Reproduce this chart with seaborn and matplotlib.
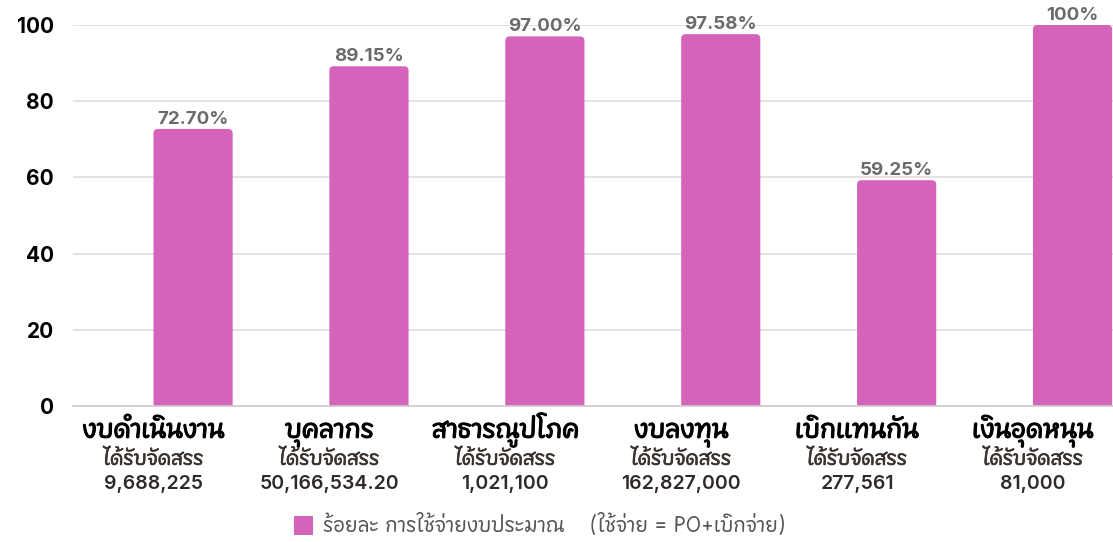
import matplotlib
matplotlib.use("Agg")
import matplotlib.pyplot as plt
import matplotlib.patheffects as pe
from matplotlib import font_manager
from matplotlib.ft2font import FT2Font
from matplotlib.patches import Patch, FancyBboxPatch
import pandas as pd
import seaborn as sns

# --- data ---
categories = ["งบดำเนินงาน", "บุคลากร", "สาธารณูปโภค", "งบลงทุน", "เบิกแทนกัน", "เงินอุดหนุน"]
allocated = ["9,688,225", "50,166,534.20", "1,021,100", "162,827,000", "277,561", "81,000"]
percent_used = [72.70, 89.15, 97.00, 97.58, 59.25, 100.0]
hidden_series = [0, 0, 0, 0, 0, 0]   # empty first series in the original chart
value_labels = ["72.70%", "89.15%", "97.00%", "97.58%", "59.25%", "100%"]
y_ticks = [0, 20, 40, 60, 80, 100]
legend_label = "ร้อยละ การใช้จ่ายงบประมาณ    (ใช้จ่าย = PO+เบิกจ่าย)"

BAR = "#d563ba"


def find_thai_font():
    # look for any installed family that actually has Thai glyphs
    best = None
    for f in font_manager.fontManager.ttflist:
        try:
            cmap = FT2Font(f.fname).get_charmap()
        except Exception:
            continue
        if 0x0E01 in cmap and 0x0E33 in cmap:
            if best is None or "Sans" in f.name:
                best = f.name
    return best


sns.set_theme(style="white")
thai = find_thai_font()
fams = ([thai] if thai else []) + ["DejaVu Sans"]
plt.rcParams["font.family"] = fams
num_fams = ["Inter", "DejaVu Sans"]

df = pd.DataFrame({
    "cat": categories * 2,
    "val": hidden_series + percent_used,
    "series": ["hidden"] * len(categories) + ["used"] * len(categories),
})

fig = plt.figure(figsize=(11.13, 5.42), dpi=100)
ax = fig.add_axes([0.066, 0.251, 0.934, 0.703])

sns.barplot(data=df, x="cat", y="val", hue="series", hue_order=["hidden", "used"],
            palette=[BAR, BAR], saturation=1, width=0.9, linewidth=0,
            legend=False, ax=ax, zorder=3)

ax.set_xlim(-0.455, 5.455)
ax.set_ylim(0, 100)
ax.set_yticks(y_ticks)
ax.set_yticklabels([str(t) for t in y_ticks], fontsize=15, fontweight="bold",
                   color="black", family=num_fams)
ax.tick_params(axis="y", length=0, pad=14)
ax.yaxis.grid(True, color="#dedede", linewidth=1.2)
ax.set_axisbelow(True)
ax.set_xlabel("")
ax.set_ylabel("")
for s in ["top", "right", "left"]:
    ax.spines[s].set_visible(False)
ax.spines["bottom"].set_color("#cccccc")
ax.spines["bottom"].set_linewidth(1.2)
ax.spines["bottom"].set_zorder(4)

# value labels above the visible bars
ax.bar_label(ax.containers[1], labels=value_labels, padding=1, fontsize=13.5,
             fontweight="bold", color="#6b6b6b", family=num_fams, clip_on=False)

# small rounded tops like the original chart
for bar in ax.containers[1]:
    x, y = bar.get_x(), bar.get_y()
    w, h = bar.get_width(), bar.get_height()
    bar.set_visible(False)
    ax.add_patch(FancyBboxPatch((x, y - 2), w, h + 2,
                                boxstyle="round,pad=0,rounding_size=0.025",
                                mutation_aspect=46, facecolor=BAR,
                                edgecolor="none", zorder=3))

# three-line category labels (names share one baseline)
ax.set_xticks(range(len(categories)))
ax.set_xticklabels([""] * len(categories))
ax.tick_params(axis="x", length=0)
trans = ax.get_xaxis_transform()
for i, (name, amount) in enumerate(zip(categories, allocated)):
    ax.text(i, -0.083, name, transform=trans, ha="center", va="baseline",
            fontsize=18, color="black",
            path_effects=[pe.withStroke(linewidth=0.8, foreground="black")])
    ax.text(i, -0.14, "ได้รับจัดสรร", transform=trans, ha="center", va="center",
            fontsize=14, color="#3a3330",
            path_effects=[pe.withStroke(linewidth=0.4, foreground="#3a3330")])
    ax.text(i, -0.205, amount, transform=trans, ha="center", va="center",
            fontsize=14, fontweight="semibold", color="#2f2a28", family=num_fams)

handle = Patch(facecolor=BAR, edgecolor="none")
fig.legend([handle], [legend_label], loc="center", bbox_to_anchor=(0.485, 0.028),
           frameon=False, fontsize=14, labelcolor="#555555",
           handlelength=1.0, handleheight=1.1, handletextpad=0.5)

fig.savefig("out.png", dpi=100)
